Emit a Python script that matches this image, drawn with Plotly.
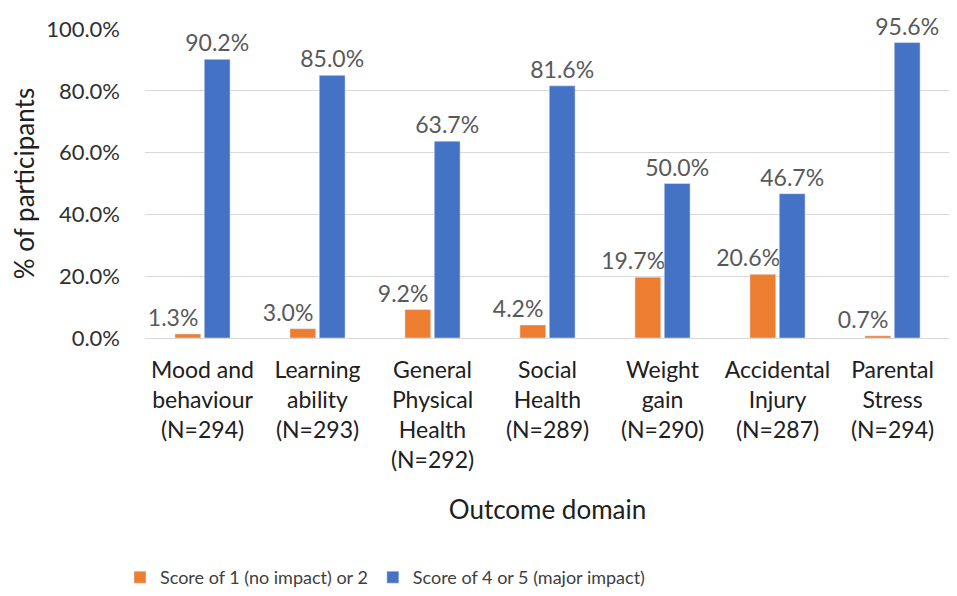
import plotly.graph_objects as go

categories = [
    "Mood and<br>behaviour<br>(N=294)",
    "Learning<br>ability<br>(N=293)",
    "General<br>Physical<br>Health<br>(N=292)",
    "Social<br>Health<br>(N=289)",
    "Weight<br>gain<br>(N=290)",
    "Accidental<br>Injury<br>(N=287)",
    "Parental<br>Stress<br>(N=294)",
]
low_scores = [0.013, 0.030, 0.092, 0.042, 0.197, 0.206, 0.007]
high_scores = [0.902, 0.850, 0.637, 0.816, 0.500, 0.467, 0.956]
series_names = ["Score of 1 (no impact) or 2", "Score of 4 or 5 (major impact)"]
y_ticks = [0, 0.2, 0.4, 0.6, 0.8, 1.0]

FONT = "Lato, Calibri, Arial, sans-serif"
PAD = "\u00a0" * 5  # nudges orange labels left, as in the original

fig = go.Figure()
fig.add_trace(go.Bar(
    x=categories, y=low_scores, name=series_names[0],
    marker_color="#ED7D31",
    text=[f"{v*100:.1f}%{PAD}" for v in low_scores], textposition="outside",
    constraintext="none",
    textfont=dict(color="#595959", size=23, family=FONT), cliponaxis=False,
))
fig.add_trace(go.Bar(
    x=categories, y=high_scores, name=series_names[1],
    marker_color="#4472C4",
    text=[f"{v*100:.1f}%" for v in high_scores], textposition="outside",
    constraintext="none",
    textfont=dict(color="#595959", size=23, family=FONT), cliponaxis=False,
))

fig.update_layout(
    width=949, height=588,
    paper_bgcolor="white", plot_bgcolor="white",
    font=dict(family=FONT, size=23, color="#404040"),
    barmode="group", bargap=0.49, bargroupgap=0.12,
    margin=dict(l=135, r=7, t=21, b=258),
    showlegend=True,
    legend=dict(orientation="h", xref="container", yref="container",
                x=0.118, xanchor="left", y=0.0, yanchor="bottom",
                font=dict(size=18, color="#404040"), traceorder="normal"),
    xaxis=dict(
        showgrid=False, showline=False, ticks="",
        ticklabelstandoff=16,
        tickfont=dict(size=23, color="#202020"),
        title=dict(text="Outcome domain", font=dict(size=26, color="#202020"), standoff=29),
    ),
    yaxis=dict(
        range=[0, 1.0], tickvals=y_ticks, tickformat=".1%",
        showgrid=True, gridcolor="#D9D9D9", gridwidth=1,
        zeroline=True, zerolinecolor="#D9D9D9", zerolinewidth=1,
        showline=False, ticks="", ticklabelstandoff=24,
        tickfont=dict(size=22, color="#303030"),
        title=dict(text="% of participants", font=dict(size=26, color="#202020"), standoff=13),
    ),
)

fig.write_html("out.html")
